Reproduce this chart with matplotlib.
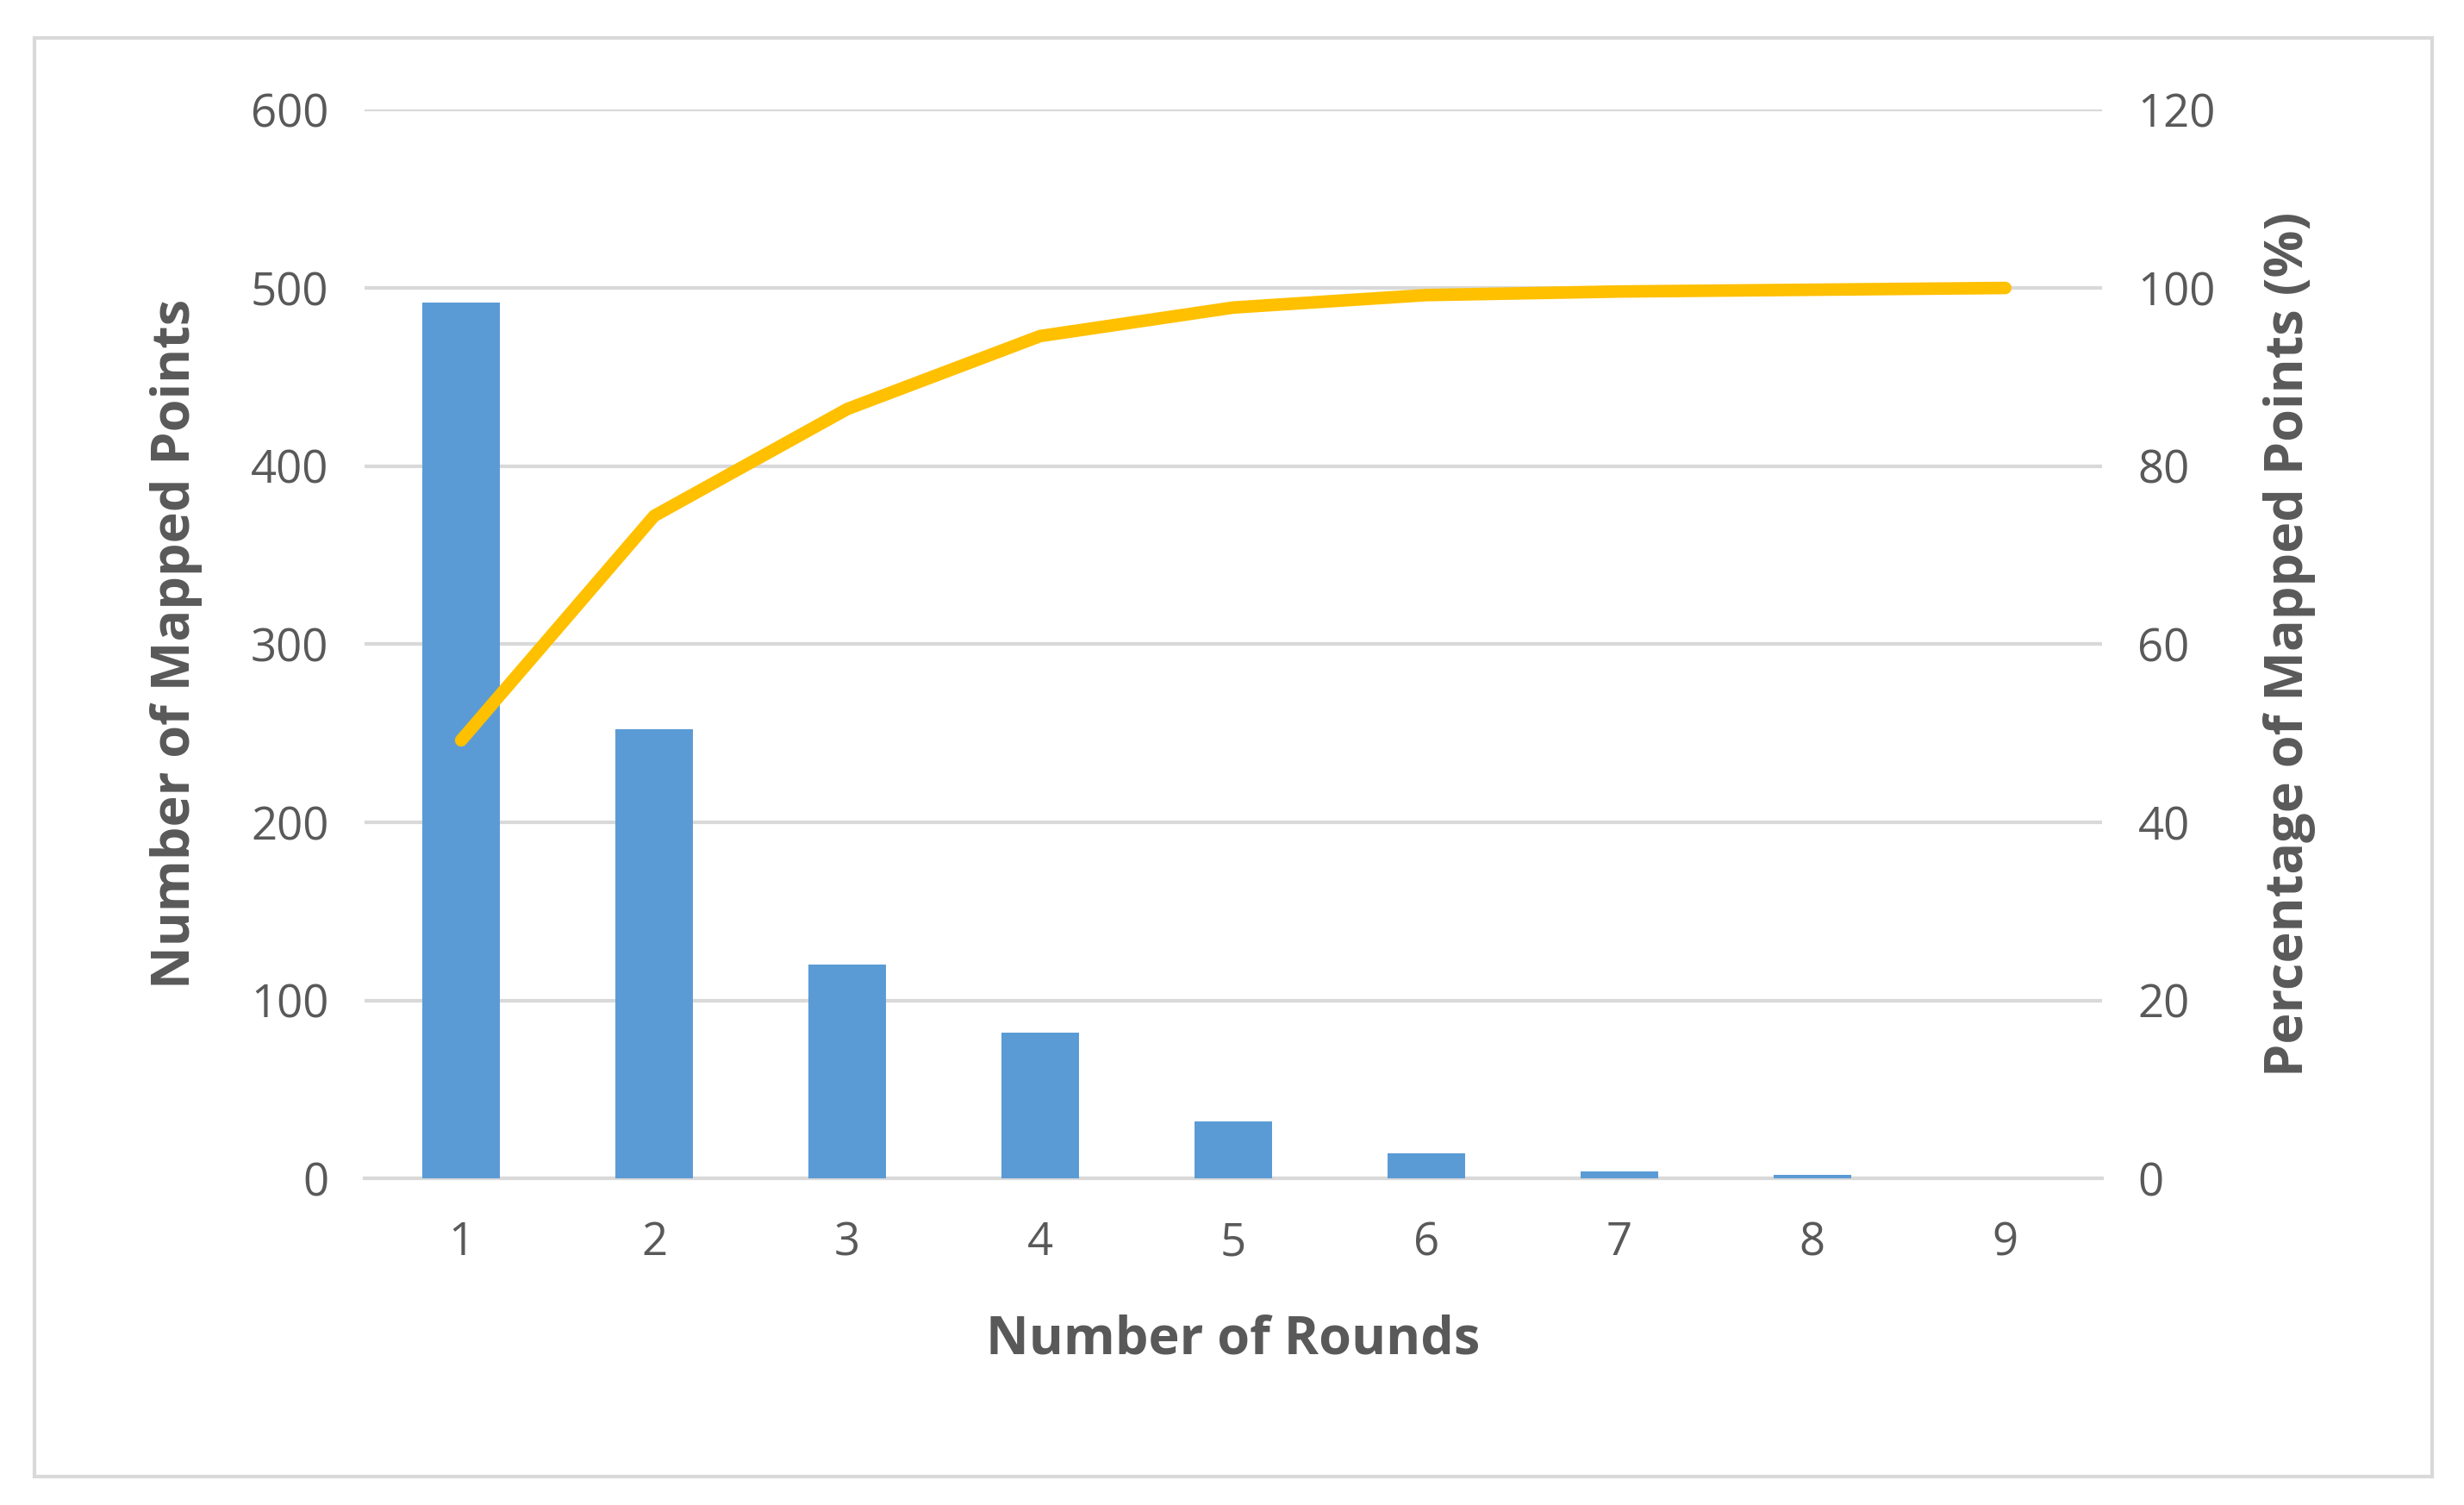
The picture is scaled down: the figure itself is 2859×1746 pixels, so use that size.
import matplotlib.pyplot as plt
from matplotlib.patches import Rectangle

rounds = [1, 2, 3, 4, 5, 6, 7, 8, 9]
points = [492, 252, 120, 82, 32, 14, 4, 2, 0]
percent = [49.2, 74.4, 86.4, 94.6, 97.8, 99.2, 99.6, 99.8, 100]

plt.rcParams['font.family'] = ['Open Sans', 'DejaVu Sans']
txt = '#595959'

fig = plt.figure(figsize=(28.59, 17.46), dpi=100)
ax = fig.add_axes([0.148, 0.217, 0.705, 0.71])
ax2 = ax.twinx()

ax.bar(rounds, points, width=0.4, color='#5B9BD5', zorder=3)
ax2.plot(rounds, percent, color='#FFC000', lw=10.5, solid_capstyle='round', zorder=4)

ax.set_ylim(0, 600)
ax.set_yticks(range(0, 601, 100))
ax2.set_ylim(0, 120)
ax2.set_yticks(range(0, 121, 20))
ax.set_xlim(0.5, 9.5)
ax.set_xticks(rounds)
ax.grid(axis='y', color='#D9D9D9', lw=3, zorder=0)

for a in (ax, ax2):
    for s in a.spines.values():
        s.set_visible(False)
    a.tick_params(length=0, labelsize=38, colors=txt, pad=30)
ax.spines['bottom'].set_visible(True)
ax.spines['bottom'].set_color('#D9D9D9')
ax.spines['bottom'].set_linewidth(3)
ax.tick_params(axis='x', pad=35)

ax.set_xlabel('Number of Rounds', fontsize=44, fontweight='bold', color=txt, labelpad=40)
ax.set_ylabel('Number of Mapped Points', fontsize=44, fontweight='bold', color=txt, labelpad=40)
ax2.set_ylabel('Percentage of Mapped Points (%)', fontsize=44, fontweight='bold', color=txt, labelpad=40)
ax2.set_zorder(ax.get_zorder() + 1)

fig.patches.append(Rectangle((0.014, 0.019), 0.973, 0.956, transform=fig.transFigure,
                             fill=False, edgecolor='#D9D9D9', lw=3))

fig.savefig('out.png', dpi=100, facecolor='white')
